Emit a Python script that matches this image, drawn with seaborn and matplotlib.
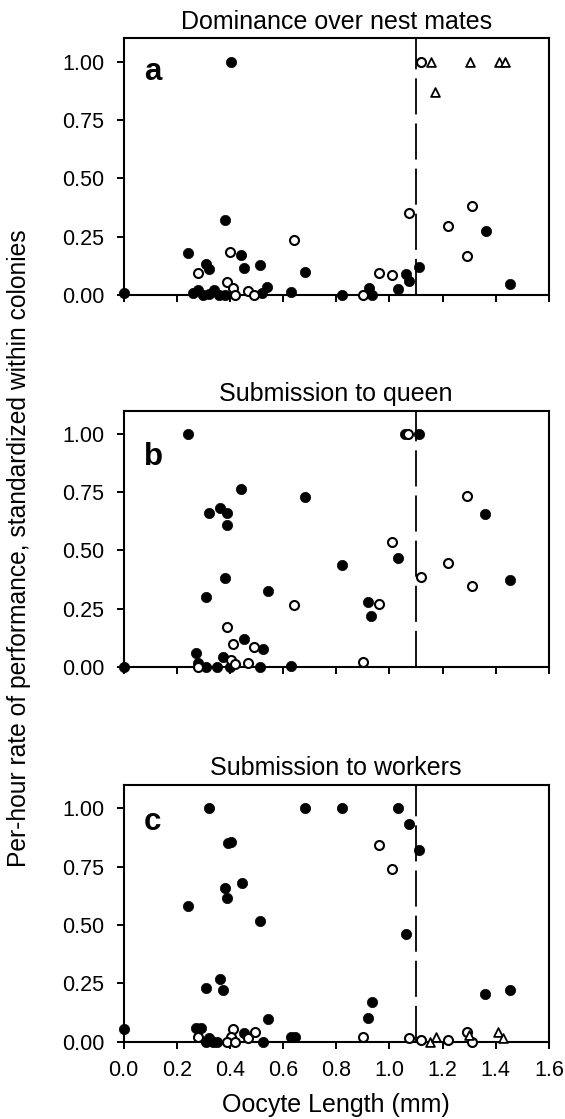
import pandas as pd
import matplotlib
matplotlib.use("Agg")
import matplotlib.pyplot as plt
import seaborn as sns

# panel titles and letters
titles = ["Dominance over nest mates", "Submission to queen", "Submission to workers"]
letters = ["a", "b", "c"]

# panel a - dominance over nest mates
a_filled_x = [0.0, 0.403, 0.38, 0.242, 0.31, 0.321, 0.442, 0.453, 0.513, 0.683, 0.631, 0.541, 0.52,
              0.26, 0.28, 0.30, 0.32, 0.34, 0.36, 0.38, 0.823, 0.924, 0.933, 1.033, 1.062, 1.072,
              1.112, 1.363, 1.453]
a_filled_y = [0.01, 1.0, 0.32, 0.178, 0.133, 0.11, 0.171, 0.114, 0.13, 0.10, 0.014, 0.036, 0.01,
              0.01, 0.02, 0.0, 0.005, 0.02, 0.0, 0.0, 0.0, 0.029, 0.0, 0.024, 0.089, 0.06,
              0.119, 0.276, 0.047]
a_open_x = [0.281, 0.40, 0.39, 0.413, 0.42, 0.47, 0.49, 0.642, 0.90, 0.961, 1.011, 1.072, 1.12,
            1.222, 1.312, 1.291]
a_open_y = [0.093, 0.186, 0.057, 0.029, 0.0, 0.018, 0.0, 0.236, 0.0, 0.093, 0.086, 0.35, 1.0,
            0.297, 0.383, 0.169]
a_tri_x = [1.156, 1.172, 1.304, 1.413, 1.434]
a_tri_y = [1.0, 0.871, 1.0, 1.0, 1.0]

# panel b - submission to queen
b_filled_x = [0.0, 0.242, 0.443, 0.321, 0.361, 0.391, 0.39, 0.381, 0.311, 0.543, 0.681, 0.453,
              0.523, 0.273, 0.374, 0.28, 0.31, 0.35, 0.512, 0.631, 0.40, 1.058, 1.112, 1.359,
              1.032, 0.821, 1.452, 0.921, 0.931]
b_filled_y = [0.0, 1.0, 0.763, 0.66, 0.682, 0.66, 0.61, 0.383, 0.301, 0.326, 0.729, 0.118,
              0.076, 0.06, 0.04, 0.015, 0.0, 0.0, 0.0, 0.005, 0.0, 1.0, 1.0, 0.656,
              0.468, 0.436, 0.372, 0.277, 0.216]
b_open_x = [0.641, 0.39, 0.413, 0.49, 0.403, 0.42, 0.47, 0.28, 1.07, 1.291, 1.009, 1.22, 1.12,
            1.311, 0.961, 0.901]
b_open_y = [0.266, 0.172, 0.096, 0.083, 0.03, 0.01, 0.015, 0.0, 1.0, 0.735, 0.538, 0.445, 0.386,
            0.349, 0.27, 0.022]
b_tri_x = []
b_tri_y = []

# panel c - submission to workers
c_filled_x = [0.0, 0.321, 0.392, 0.403, 0.381, 0.391, 0.444, 0.242, 0.513, 0.681, 0.362, 0.311,
              0.374, 0.543, 0.271, 0.292, 0.321, 0.31, 0.335, 0.35, 0.453, 0.523, 0.631, 0.645,
              0.821, 1.032, 1.072, 1.112, 1.062, 0.933, 0.921, 1.36, 1.452]
c_filled_y = [0.053, 1.0, 0.853, 0.857, 0.659, 0.615, 0.679, 0.583, 0.516, 1.0, 0.27, 0.228,
              0.222, 0.098, 0.06, 0.06, 0.015, 0.0, 0.0, 0.0, 0.039, 0.0, 0.02, 0.02,
              1.0, 1.0, 0.931, 0.821, 0.46, 0.172, 0.103, 0.204, 0.221]
c_open_x = [0.281, 0.413, 0.403, 0.39, 0.42, 0.468, 0.493, 0.961, 1.011, 0.901, 1.072, 1.12,
            1.22, 1.29, 1.31]
c_open_y = [0.021, 0.053, 0.02, 0.0, 0.0, 0.015, 0.043, 0.844, 0.738, 0.019, 0.015, 0.007,
            0.007, 0.043, 0.0]
c_tri_x = [1.152, 1.175, 1.30, 1.41, 1.429]
c_tri_y = [0.0, 0.02, 0.03, 0.043, 0.015]

x_ticks = [0.0, 0.2, 0.4, 0.6, 0.8, 1.0, 1.2, 1.4, 1.6]
y_ticks = [0.0, 0.25, 0.50, 0.75, 1.00]
cutoff = 1.1  # oocyte length threshold (dashed line)

sns.set_style("ticks")
plt.rcParams['font.family'] = ['Liberation Sans', 'DejaVu Sans']
# seaborn greys the text, the original is plain black
plt.rcParams['text.color'] = 'black'
plt.rcParams['axes.labelcolor'] = 'black'
plt.rcParams['xtick.color'] = 'black'
plt.rcParams['ytick.color'] = 'black'

panels = [
    (a_filled_x, a_filled_y, a_open_x, a_open_y, a_tri_x, a_tri_y),
    (b_filled_x, b_filled_y, b_open_x, b_open_y, b_tri_x, b_tri_y),
    (c_filled_x, c_filled_y, c_open_x, c_open_y, c_tri_x, c_tri_y),
]

fig = plt.figure(figsize=(5.65, 11.19), dpi=100)
# axes boxes: left, bottom, width, height in figure fraction
boxes = [(0.2186, 0.7364, 0.753, 0.2294),
         (0.2186, 0.4042, 0.753, 0.2285),
         (0.2186, 0.0691, 0.753, 0.2294)]
letter_y = [0.8375, 0.789, 0.825]

for i, (fx, fy, ox, oy, tx, ty) in enumerate(panels):
    ax = fig.add_axes(boxes[i])

    sns.scatterplot(x=fx, y=fy, ax=ax, marker="o", s=55, color="black",
                    edgecolor="black", linewidth=0.5, clip_on=False, zorder=3)
    sns.scatterplot(x=ox, y=oy, ax=ax, marker="o", s=42, color="white",
                    edgecolor="black", linewidth=1.5, clip_on=False, zorder=4)
    if len(tx) > 0:
        sns.scatterplot(x=tx, y=ty, ax=ax, marker="^", s=40, color="white",
                        edgecolor="black", linewidth=1.3, clip_on=False, zorder=4)

    ax.axvline(cutoff, color="black", lw=1.3, dashes=(20, 5), zorder=2)

    ax.set_xlim(0, 1.6)
    ax.set_ylim(0, 1.1)
    ax.set_xticks(x_ticks)
    ax.set_yticks(y_ticks)
    ax.set_yticklabels([f"{v:.2f}" for v in y_ticks])
    ax.tick_params(direction="out", length=5, width=1.4, labelsize=15.5, colors="black")
    ax.tick_params(axis="y", pad=9)
    ax.tick_params(axis="x", pad=8)
    if i < 2:
        ax.set_xticklabels([])
    else:
        ax.set_xticklabels([f"{v:.1f}" for v in x_ticks])
        ax.set_xlabel("Oocyte Length (mm)", fontsize=18, labelpad=9)

    for sp in ax.spines.values():
        sp.set_visible(True)
        sp.set_linewidth(1.5)
        sp.set_color("black")

    ax.set_title(titles[i], fontsize=18, pad=7)
    ax.text(0.048, letter_y[i], letters[i], transform=ax.transAxes,
            fontsize=22.5, fontweight="bold", va="baseline", ha="left")

fig.text(0.034, 0.51, "Per-hour rate of performance, standardized within colonies",
         rotation=90, va="center", ha="center", fontsize=17.7)

fig.savefig("out.png", dpi=100)
plt.close()
